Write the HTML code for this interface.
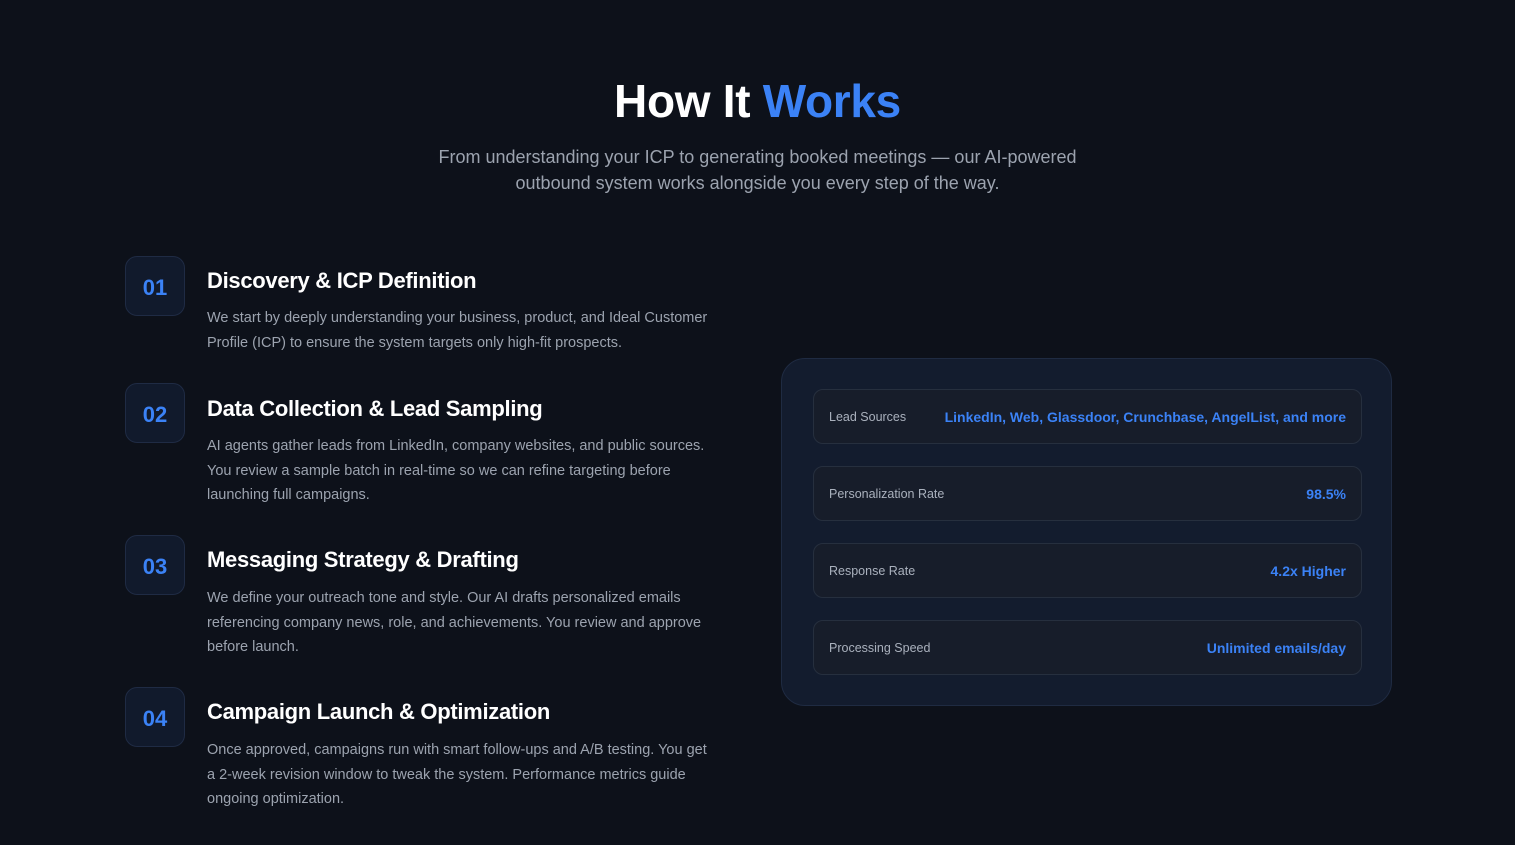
<!DOCTYPE html>
<html><head><meta charset="utf-8"><style>
*{margin:0;padding:0;box-sizing:border-box}
body{width:1515px;height:845px;background:#0d111a;font-family:"Liberation Sans","DejaVu Sans",sans-serif;position:relative;overflow:hidden;color:#fff}
h1{position:absolute;top:74px;left:0;width:1515px;text-align:center;font-size:46px;font-weight:bold;letter-spacing:-0.3px}
h1 span{color:#3b82f6}
.sub{position:absolute;top:144px;left:0;width:1515px;text-align:center;font-size:18px;line-height:26px;color:#9ca3af}
.num{position:absolute;left:125px;width:60px;height:60px;border-radius:12px;background:#111a2c;border:1px solid #1f2b44;color:#3b82f6;font-size:22px;font-weight:bold;display:flex;align-items:center;justify-content:center;padding-top:3px}
.t{position:absolute;left:207px;font-size:22px;font-weight:bold;letter-spacing:-0.3px}
.d{position:absolute;left:207px;width:522px;font-size:14.5px;line-height:24.5px;color:#9ca3af}
.panel{position:absolute;left:781px;top:358px;width:611px;height:348px;border-radius:24px;background:#131c2e;border:1px solid #1f2b42}
.row{position:absolute;left:31px;width:549px;height:55px;border-radius:10px;background:#171d2a;border:1px solid #262f3e;display:flex;align-items:center;justify-content:space-between;padding:0 15px}
.row .l{font-size:12.5px;color:#aab1bd}
.row .v{font-size:14px;font-weight:bold;color:#3b82f6}
</style></head><body>
<h1>How It <span>Works</span></h1>
<div class="sub">From understanding your ICP to generating booked meetings — our AI-powered<br>outbound system works alongside you every step of the way.</div>

<div class="num" style="top:256px">01</div>
<div class="t" style="top:268px">Discovery &amp; ICP Definition</div>
<div class="d" style="top:306px">We start by deeply understanding your business, product, and Ideal Customer Profile (ICP) to ensure the system targets only high-fit prospects.</div>

<div class="num" style="top:383px">02</div>
<div class="t" style="top:396px">Data Collection &amp; Lead Sampling</div>
<div class="d" style="top:434px">AI agents gather leads from LinkedIn, company websites, and public sources. You review a sample batch in real-time so we can refine targeting before launching full campaigns.</div>

<div class="num" style="top:535px">03</div>
<div class="t" style="top:547px">Messaging Strategy &amp; Drafting</div>
<div class="d" style="top:586px">We define your outreach tone and style. Our AI drafts personalized emails referencing company news, role, and achievements. You review and approve before launch.</div>

<div class="num" style="top:687px">04</div>
<div class="t" style="top:699px">Campaign Launch &amp; Optimization</div>
<div class="d" style="top:738px">Once approved, campaigns run with smart follow-ups and A/B testing. You get<br>a 2-week revision window to tweak the system. Performance metrics guide ongoing optimization.</div>

<div class="panel">
<div class="row" style="top:30px"><span class="l">Lead Sources</span><span class="v">LinkedIn, Web, Glassdoor, Crunchbase, AngelList, and more</span></div>
<div class="row" style="top:107px"><span class="l">Personalization Rate</span><span class="v">98.5%</span></div>
<div class="row" style="top:184px"><span class="l">Response Rate</span><span class="v">4.2x Higher</span></div>
<div class="row" style="top:261px"><span class="l">Processing Speed</span><span class="v">Unlimited emails/day</span></div>
</div>
</body></html>
